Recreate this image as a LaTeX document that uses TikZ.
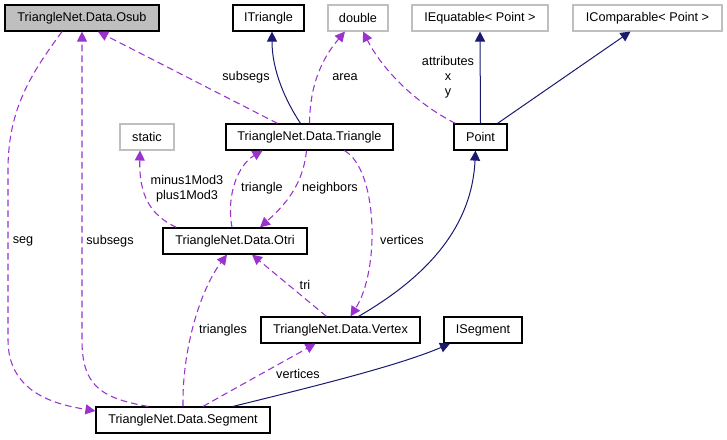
\documentclass[tikz,border=0pt]{standalone}
\usepackage{fontspec}
\setmainfont{Liberation Sans}
\usepackage{tikz}
\usetikzlibrary{arrows.meta,positioning,calc}

\definecolor{memcol}{HTML}{9A32CD}
\definecolor{inhcol}{HTML}{191970}
\definecolor{extgray}{HTML}{BFBFBF}

\begin{document}
\begin{tikzpicture}[
  x=0.75pt, y=-0.75pt,
  cls/.style={rectangle, draw=black, line width=0.9pt, fill=white, inner sep=0pt,
    minimum height=19.5pt, font=\fontsize{9.5}{11}\selectfont},
  extcls/.style={cls, draw=extgray, line width=0.8pt},
  lbl/.style={inner sep=0pt, font=\fontsize{9.5}{11.25}\selectfont, align=center},
  mem/.style={-{Triangle[length=7.5pt, width=7.5pt]}, draw=memcol, line width=0.8pt,
    dash pattern=on 5pt off 3pt},
  inh/.style={-{Triangle[length=7.5pt, width=7.5pt]}, draw=inhcol, line width=0.75pt}
]
\useasboundingbox (0,0) rectangle (727,439);

% classes
\node[cls, fill=extgray, minimum width=115.5pt] (osub) at (82,18) {TriangleNet.Data.Osub};
\node[cls, minimum width=53.25pt] (itriangle) at (268.5,18) {ITriangle};
\node[extcls, minimum width=45pt] (double) at (358,18) {double};
\node[extcls, minimum width=102pt] (iequatable) at (480,18) {IEquatable< Point >};
\node[extcls, minimum width=111.75pt] (icomparable) at (647.5,18) {IComparable< Point >};
\node[cls, minimum width=125.25pt] (triangle) at (309.5,137) {TriangleNet.Data.Triangle};
\node[cls, minimum width=39.75pt] (point) at (480.5,137) {Point};
\node[extcls, minimum width=40.5pt] (static) at (147,137) {static};
\node[cls, minimum width=108pt] (otri) at (235,241) {TriangleNet.Data.Otri};
\node[cls, minimum width=119.25pt] (vertex) at (340.5,330) {TriangleNet.Data.Vertex};
\node[cls, minimum width=58.5pt] (isegment) at (483,330) {ISegment};
\node[cls, minimum width=130.5pt] (segment) at (183,420) {TriangleNet.Data.Segment};

% members
\draw[mem] ($(osub.south)+(-20,0)$) .. controls (30,75) and (8,110) .. (8,170) -- (8,340)
  .. controls (8,395) and (60,405) .. ($(segment.west)+(0,-9)$);
\draw[mem] ($(segment.north)+(-35,0)$) .. controls (100,398) and (82,385) .. (82,340) -- (osub.south);
\draw[mem] ($(triangle.north)+(-32,0)$) -- ($(osub.south)+(16,0)$);
\draw[mem] (triangle.north) .. controls (310,80) and (325,55) .. ($(double.south)+(-13,0)$);
\draw[mem] ($(point.north west)+(2,0)$) .. controls (410,100) and (380,65) .. ($(double.south)+(5,0)$);
\draw[mem] ($(otri.north west)+(14,0)$) .. controls (150,215) and (139,195) .. ($(static.south)+(-7,0)$);
\draw[mem] ($(otri.north)+(-3,0)$) .. controls (226,195) and (238,165) .. ($(triangle.south)+(-47,0)$);
\draw[mem] ($(triangle.south)+(-3,0)$) .. controls (303,185) and (285,205) .. ($(otri.north)+(25,0)$);
\draw[mem] ($(triangle.south)+(35,0)$) .. controls (378,170) and (380,270) .. ($(vertex.north)+(10,0)$);
\draw[mem] ($(vertex.north)+(-14,0)$) -- ($(otri.south)+(17,0)$);
\draw[mem] (segment.north) .. controls (182,350) and (200,290) .. ($(otri.south)+(-8,0)$);
\draw[mem] ($(segment.north)+(20,0)$) .. controls (250,380) and (290,358) .. ($(vertex.south)+(-25,0)$);

% inheritance
\draw[inh] ($(triangle.north)+(-9,0)$) .. controls (285,100) and (272,70) .. ($(itriangle.south)+(3.5,0)$);
\draw[inh] (point.north) -- (iequatable.south);
\draw[inh] ($(point.north)+(17,0)$) -- ($(icomparable.south)+(-17,0)$);
\draw[inh] ($(vertex.north)+(18,0)$) .. controls (430,275) and (472,225) .. ($(point.south)+(-5,0)$);
\draw[inh] ($(segment.north)+(50,0)$) .. controls (320,385) and (400,365) .. ($(isegment.south)+(-33,0)$);

% labels
\node[lbl] (lseg) at (23,241) {seg};
\node[lbl] (lsubsegsa) at (110,241) {subsegs};
\node[lbl] (lsubsegsb) at (246,77) {subsegs};
\node[lbl] (larea) at (345,77) {area};
\node[lbl] (lattr) at (448,77) {attributes\\x\\y};
\node[lbl] (lmod) at (187,188.5) {minus1Mod3\\plus1Mod3};
\node[lbl] (ltriangle) at (262,188) {triangle};
\node[lbl] (lneighbors) at (330,188) {neighbors};
\node[lbl] (lverticesa) at (402,240) {vertices};
\node[lbl] (ltri) at (305,285) {tri};
\node[lbl] (ltriangles) at (223,330) {triangles};
\node[lbl] (lverticesb) at (298,374) {vertices};
\end{tikzpicture}
\end{document}
